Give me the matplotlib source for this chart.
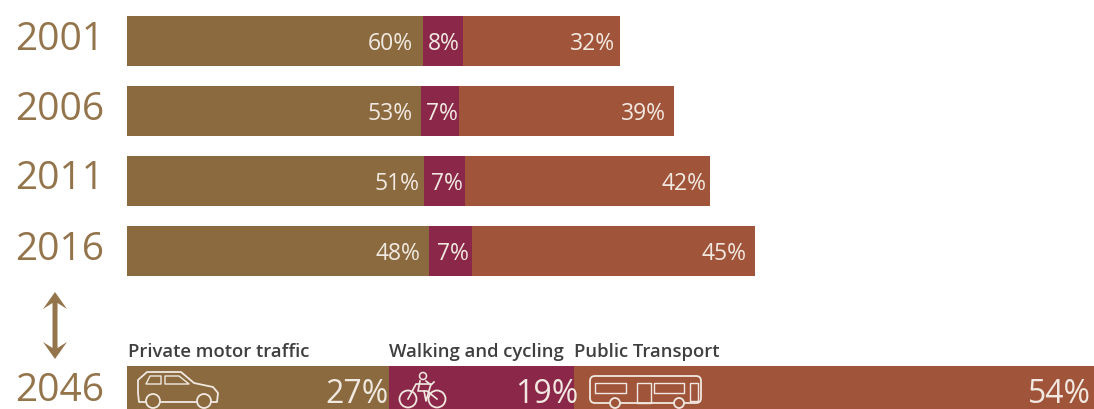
import matplotlib
matplotlib.use('Agg')
import matplotlib.pyplot as plt
from matplotlib.patches import Circle, FancyBboxPatch, Polygon

years = ['2001', '2006', '2011', '2016', '2046']
# segment lengths (the bars share one absolute scale)
private = [296, 294, 297, 302, 262]
active = [40, 38, 41, 43, 185]
public = [157, 215, 245, 283, 524]
private_pct = ['60%', '53%', '51%', '48%', '27%']
active_pct = ['8%', '7%', '7%', '7%', '19%']
public_pct = ['32%', '39%', '42%', '45%', '54%']
series_names = ['Private motor traffic', 'Walking and cycling', 'Public Transport']

BROWN = '#8a6a3e'
MAROON = '#8b2849'
RUST = '#a0553b'
LABEL = '#f1e9e1'
YEAR = '#94744b'

plt.rcParams['font.family'] = ['Open Sans', 'DejaVu Sans']


def icon_line(ax, pts, lw=1.3):
    ax.add_patch(Polygon(pts, closed=True, fill=False, ec=LABEL, lw=lw, joinstyle='round', zorder=4))


def wheel(ax, x, y, r, lw=1.3, fc='none'):
    ax.add_patch(Circle((x, y), r, fc=fc, ec=LABEL, lw=lw, zorder=5))


def draw_car(ax):
    icon_line(ax, [(138, 394), (138, 381), (147, 373), (181, 373), (194, 384), (213, 388),
                   (218, 394), (217, 403), (139, 403)])
    icon_line(ax, [(146, 385), (150, 377), (161, 377), (161, 385)], 1.0)
    icon_line(ax, [(165, 377), (179, 377), (189, 385), (165, 385)], 1.0)
    wheel(ax, 153, 402, 7, fc=BROWN)
    wheel(ax, 204, 402, 7, fc=BROWN)


def draw_bike(ax):
    wheel(ax, 408, 400, 8.5)
    wheel(ax, 437, 400, 8.5)
    wheel(ax, 423, 377, 3.5, 1.1)
    ax.plot([420, 418, 427, 437], [382, 392, 392, 400], color=LABEL, lw=1.2, zorder=5)
    ax.plot([408, 416, 431, 426, 424], [400, 385, 385, 402, 392], color=LABEL, lw=1.2, zorder=5)
    ax.plot([426, 431, 434], [382, 386, 383], color=LABEL, lw=1.2, zorder=5)


def draw_bus(ax):
    ax.add_patch(FancyBboxPatch((590, 377), 111, 27, boxstyle='round,pad=0,rounding_size=5',
                                fill=False, ec=LABEL, lw=1.3, zorder=4))
    icon_line(ax, [(595, 384), (626, 384), (626, 394), (595, 394)], 1.0)
    icon_line(ax, [(637, 384), (651, 384), (651, 404), (637, 404)], 1.0)
    icon_line(ax, [(654, 384), (684, 384), (684, 394), (654, 394)], 1.0)
    icon_line(ax, [(690, 384), (698, 384), (698, 402), (690, 402)], 1.0)
    wheel(ax, 615, 404, 5, fc=RUST)
    wheel(ax, 679, 404, 5, fc=RUST)


fig = plt.figure(figsize=(10.94, 4.1), dpi=100)
ax = fig.add_axes([0, 0, 1, 1])
ax.set_xlim(0, 1094)
ax.set_ylim(410, 0)
ax.axis('off')

start = 127
y_pos = [41, 111, 181, 251, 391]
label_gap = [[10, 3, 5], [8, 1, 8], [4, 2, 4], [9, 3, 8], [0, -4, 7]]
for i, year in enumerate(years):
    left = start
    big = i == 4
    for w, txt, col, gap in zip([private[i], active[i], public[i]],
                                [private_pct[i], active_pct[i], public_pct[i]],
                                [BROWN, MAROON, RUST], label_gap[i]):
        ax.barh(y_pos[i] + 0.5, w, left=left, height=50, color=col, edgecolor='none', zorder=2)
        ax.text(left + w - gap, y_pos[i], txt, ha='right', va='center_baseline',
                color=LABEL, fontsize=23 if big else 16.5, zorder=6)
        left += w
    ax.text(104, y_pos[i] - 6 + (2 if big else 0), year, ha='right', va='center_baseline', color=YEAR,
            fontsize=28)

for x, name in zip([128, 389, 574], series_names):
    ax.text(x, 350, name, ha='left', va='center_baseline', color='#3f3f3f', fontsize=13.3, fontweight='semibold')

# double arrow between 2016 and 2046
ax.add_patch(Polygon([(55, 293), (67, 310), (57.5, 304), (57.5, 349), (67, 343), (55, 360),
                      (43, 343), (52.5, 349), (52.5, 304), (43, 310)], closed=True, fc=YEAR, ec='none'))

draw_car(ax)
draw_bike(ax)
draw_bus(ax)

fig.savefig('out.png', dpi=100)
